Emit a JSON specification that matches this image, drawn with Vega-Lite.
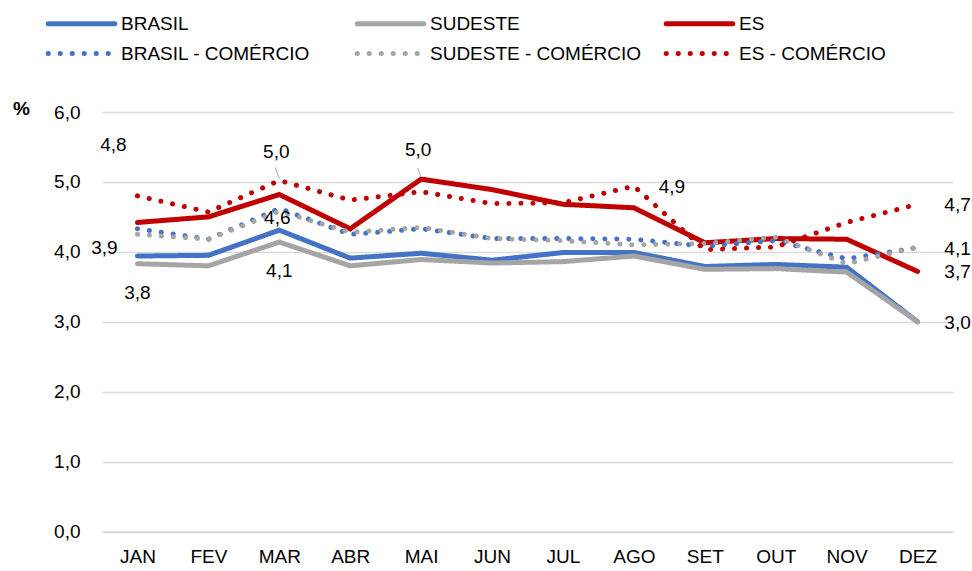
{
  "$schema": "https://vega.github.io/schema/vega-lite/v6.json",
  "width": 851,
  "height": 419.5,
  "autosize": {"type": "none"},
  "padding": {"left": 102, "top": 112, "right": 19, "bottom": 39.5},
  "background": "white",
  "config": {
    "locale": {"number": {"decimal": ",", "thousands": ".", "grouping": [3], "currency": ["R$", ""]}},
    "view": {"stroke": null},
    "font": "Liberation Sans"
  },
  "data": {"values": [
    {"mes": "JAN", "serie": "BRASIL", "valor": 3.94},
    {"mes": "FEV", "serie": "BRASIL", "valor": 3.95},
    {"mes": "MAR", "serie": "BRASIL", "valor": 4.31},
    {"mes": "ABR", "serie": "BRASIL", "valor": 3.91},
    {"mes": "MAI", "serie": "BRASIL", "valor": 3.98},
    {"mes": "JUN", "serie": "BRASIL", "valor": 3.88},
    {"mes": "JUL", "serie": "BRASIL", "valor": 3.99},
    {"mes": "AGO", "serie": "BRASIL", "valor": 3.99},
    {"mes": "SET", "serie": "BRASIL", "valor": 3.79},
    {"mes": "OUT", "serie": "BRASIL", "valor": 3.82},
    {"mes": "NOV", "serie": "BRASIL", "valor": 3.78},
    {"mes": "DEZ", "serie": "BRASIL", "valor": 3.0},
    {"mes": "JAN", "serie": "SUDESTE", "valor": 3.83},
    {"mes": "FEV", "serie": "SUDESTE", "valor": 3.8},
    {"mes": "MAR", "serie": "SUDESTE", "valor": 4.14},
    {"mes": "ABR", "serie": "SUDESTE", "valor": 3.8},
    {"mes": "MAI", "serie": "SUDESTE", "valor": 3.89},
    {"mes": "JUN", "serie": "SUDESTE", "valor": 3.84},
    {"mes": "JUL", "serie": "SUDESTE", "valor": 3.86},
    {"mes": "AGO", "serie": "SUDESTE", "valor": 3.94},
    {"mes": "SET", "serie": "SUDESTE", "valor": 3.75},
    {"mes": "OUT", "serie": "SUDESTE", "valor": 3.76},
    {"mes": "NOV", "serie": "SUDESTE", "valor": 3.71},
    {"mes": "DEZ", "serie": "SUDESTE", "valor": 3.0},
    {"mes": "JAN", "serie": "ES", "valor": 4.42},
    {"mes": "FEV", "serie": "ES", "valor": 4.5},
    {"mes": "MAR", "serie": "ES", "valor": 4.82},
    {"mes": "ABR", "serie": "ES", "valor": 4.33},
    {"mes": "MAI", "serie": "ES", "valor": 5.04},
    {"mes": "JUN", "serie": "ES", "valor": 4.89},
    {"mes": "JUL", "serie": "ES", "valor": 4.68},
    {"mes": "AGO", "serie": "ES", "valor": 4.63},
    {"mes": "SET", "serie": "ES", "valor": 4.13},
    {"mes": "OUT", "serie": "ES", "valor": 4.19},
    {"mes": "NOV", "serie": "ES", "valor": 4.18},
    {"mes": "DEZ", "serie": "ES", "valor": 3.72},
    {"mes": "JAN", "serie": "BRASIL - COMÉRCIO", "valor": 4.33},
    {"mes": "FEV", "serie": "BRASIL - COMÉRCIO", "valor": 4.18},
    {"mes": "MAR", "serie": "BRASIL - COMÉRCIO", "valor": 4.62},
    {"mes": "ABR", "serie": "BRASIL - COMÉRCIO", "valor": 4.25},
    {"mes": "MAI", "serie": "BRASIL - COMÉRCIO", "valor": 4.33},
    {"mes": "JUN", "serie": "BRASIL - COMÉRCIO", "valor": 4.19},
    {"mes": "JUL", "serie": "BRASIL - COMÉRCIO", "valor": 4.19},
    {"mes": "AGO", "serie": "BRASIL - COMÉRCIO", "valor": 4.18},
    {"mes": "SET", "serie": "BRASIL - COMÉRCIO", "valor": 4.08},
    {"mes": "OUT", "serie": "BRASIL - COMÉRCIO", "valor": 4.16},
    {"mes": "NOV", "serie": "BRASIL - COMÉRCIO", "valor": 3.9},
    {"mes": "DEZ", "serie": "BRASIL - COMÉRCIO", "valor": 4.06},
    {"mes": "JAN", "serie": "SUDESTE - COMÉRCIO", "valor": 4.25},
    {"mes": "FEV", "serie": "SUDESTE - COMÉRCIO", "valor": 4.18},
    {"mes": "MAR", "serie": "SUDESTE - COMÉRCIO", "valor": 4.58},
    {"mes": "ABR", "serie": "SUDESTE - COMÉRCIO", "valor": 4.28},
    {"mes": "MAI", "serie": "SUDESTE - COMÉRCIO", "valor": 4.35},
    {"mes": "JUN", "serie": "SUDESTE - COMÉRCIO", "valor": 4.19},
    {"mes": "JUL", "serie": "SUDESTE - COMÉRCIO", "valor": 4.16},
    {"mes": "AGO", "serie": "SUDESTE - COMÉRCIO", "valor": 4.1},
    {"mes": "SET", "serie": "SUDESTE - COMÉRCIO", "valor": 4.12},
    {"mes": "OUT", "serie": "SUDESTE - COMÉRCIO", "valor": 4.21},
    {"mes": "NOV", "serie": "SUDESTE - COMÉRCIO", "valor": 3.83},
    {"mes": "DEZ", "serie": "SUDESTE - COMÉRCIO", "valor": 4.07},
    {"mes": "JAN", "serie": "ES - COMÉRCIO", "valor": 4.8},
    {"mes": "FEV", "serie": "ES - COMÉRCIO", "valor": 4.57},
    {"mes": "MAR", "serie": "ES - COMÉRCIO", "valor": 5.02},
    {"mes": "ABR", "serie": "ES - COMÉRCIO", "valor": 4.74},
    {"mes": "MAI", "serie": "ES - COMÉRCIO", "valor": 4.86},
    {"mes": "JUN", "serie": "ES - COMÉRCIO", "valor": 4.69},
    {"mes": "JUL", "serie": "ES - COMÉRCIO", "valor": 4.7},
    {"mes": "AGO", "serie": "ES - COMÉRCIO", "valor": 4.94},
    {"mes": "SET", "serie": "ES - COMÉRCIO", "valor": 4.03},
    {"mes": "OUT", "serie": "ES - COMÉRCIO", "valor": 4.07},
    {"mes": "NOV", "serie": "ES - COMÉRCIO", "valor": 4.42},
    {"mes": "DEZ", "serie": "ES - COMÉRCIO", "valor": 4.68}
  ]},
  "encoding": {
    "x": {
      "field": "mes", "type": "ordinal",
      "sort": ["JAN", "FEV", "MAR", "ABR", "MAI", "JUN", "JUL", "AGO", "SET", "OUT", "NOV", "DEZ"],
      "scale": {"type": "point", "padding": 0.5},
      "axis": {"title": null, "labelAngle": 0, "labelFontSize": 19, "labelColor": "#000", "ticks": false, "domainColor": "#d9d9d9", "domainWidth": 1.5, "labelPadding": 16, "grid": false}
    },
    "y": {
      "field": "valor", "type": "quantitative",
      "scale": {"domain": [0, 6]},
      "axis": {"title": "%", "titleAngle": 0, "titleX": -81, "titleY": -4, "titleAlign": "center", "titleBaseline": "middle", "titleFontSize": 19, "titleFontWeight": "bold", "titleColor": "#000", "format": ".1f", "values": [0, 1, 2, 3, 4, 5, 6], "domain": false, "ticks": false, "labelPadding": 22, "labelFontSize": 19, "labelColor": "#000", "gridColor": "#d9d9d9", "gridWidth": 1.5}
    }
  },
  "layer": [
    {
      "mark": {"type": "line", "strokeWidth": 5, "strokeCap": "round"},
      "encoding": {
        "color": {
          "field": "serie", "type": "nominal",
          "scale": {"domain": ["BRASIL", "SUDESTE", "ES", "BRASIL - COMÉRCIO", "SUDESTE - COMÉRCIO", "ES - COMÉRCIO"], "range": ["#4472C4", "#A5A5A5", "#C00000", "#4472C4", "#A5A5A5", "#C00000"]},
          "legend": {"title": null, "orient": "none", "legendX": -32, "legendY": -100, "direction": "horizontal", "columns": 3, "gridAlign": "all", "columnPadding": 14, "rowPadding": 8, "symbolType": "M-3.7,0L3.7,0", "symbolSize": 324, "symbolStrokeWidth": 5, "labelFontSize": 19, "labelColor": "#000", "labelOffset": 28, "labelLimit": 400, "padding": 0, "symbolOpacity": 1, "encode": {"symbols": {"update": {"strokeCap": {"value": "round"}}}}}
        },
        "strokeDash": {
          "field": "serie", "type": "nominal",
          "scale": {"domain": ["BRASIL", "SUDESTE", "ES", "BRASIL - COMÉRCIO", "SUDESTE - COMÉRCIO", "ES - COMÉRCIO"], "range": [[1, 0], [1, 0], [1, 0], [0.1, 11.9], [0.1, 11.9], [0.1, 11.9]]},
          "legend": {"title": null, "orient": "none", "legendX": -32, "legendY": -100, "direction": "horizontal", "columns": 3, "gridAlign": "all", "columnPadding": 14, "rowPadding": 8, "symbolType": "M-3.7,0L3.7,0", "symbolSize": 324, "symbolStrokeWidth": 5, "labelFontSize": 19, "labelColor": "#000", "labelOffset": 28, "labelLimit": 400, "padding": 0, "symbolOpacity": 1, "encode": {"symbols": {"update": {"strokeCap": {"value": "round"}}}}}
        }
      }
    },
    {
      "transform": [{"filter": "(datum.serie == 'ES - COMÉRCIO' && datum.mes == 'MAR')"}],
      "mark": {"type": "rule", "color": "#a6a6a6", "strokeWidth": 1, "yOffset": -2, "x2Offset": -4, "y2Offset": -13},
      "encoding": {"x2": {"field": "mes"}, "y2": {"field": "valor"}}
    },
    {
      "transform": [{"filter": "(datum.serie == 'ES' && datum.mes == 'MAI')"}],
      "mark": {"type": "rule", "color": "#a6a6a6", "strokeWidth": 1, "yOffset": -2, "x2Offset": -3.5, "y2Offset": -11},
      "encoding": {"x2": {"field": "mes"}, "y2": {"field": "valor"}}
    },
    {
      "transform": [{"filter": "datum.serie == 'ES - COMÉRCIO' && datum.mes == 'JAN'"}],
      "mark": {"type": "text", "fontSize": 19, "color": "#000", "dx": -24, "dy": -51},
      "encoding": {"text": {"field": "valor", "type": "quantitative", "format": ".1f"}}
    },
    {
      "transform": [{"filter": "datum.serie == 'BRASIL' && datum.mes == 'JAN'"}],
      "mark": {"type": "text", "fontSize": 19, "color": "#000", "dx": -33, "dy": -8},
      "encoding": {"text": {"field": "valor", "type": "quantitative", "format": ".1f"}}
    },
    {
      "transform": [{"filter": "datum.serie == 'SUDESTE' && (datum.mes == 'JAN' || datum.mes == 'MAR')"}],
      "mark": {"type": "text", "fontSize": 19, "color": "#000", "dx": 0, "dy": 29},
      "encoding": {"text": {"field": "valor", "type": "quantitative", "format": ".1f"}}
    },
    {
      "transform": [{"filter": "(datum.serie == 'ES - COMÉRCIO' && datum.mes == 'MAR') || (datum.serie == 'ES' && datum.mes == 'MAI')"}],
      "mark": {"type": "text", "fontSize": 19, "color": "#000", "dx": -3, "dy": -29},
      "encoding": {"text": {"field": "valor", "type": "quantitative", "format": ".1f"}}
    },
    {
      "transform": [{"filter": "datum.serie == 'BRASIL - COMÉRCIO' && datum.mes == 'MAR'"}],
      "mark": {"type": "text", "fontSize": 19, "color": "#000", "dx": -2, "dy": 10},
      "encoding": {"text": {"field": "valor", "type": "quantitative", "format": ".1f"}}
    },
    {
      "transform": [{"filter": "datum.serie == 'ES - COMÉRCIO' && datum.mes == 'AGO'"}],
      "mark": {"type": "text", "fontSize": 19, "color": "#000", "dx": 38, "dy": 1},
      "encoding": {"text": {"field": "valor", "type": "quantitative", "format": ".1f"}}
    },
    {
      "transform": [{"filter": "datum.mes == 'DEZ' && datum.serie != 'BRASIL' && datum.serie != 'SUDESTE - COMÉRCIO'"}],
      "mark": {"type": "text", "fontSize": 19, "color": "#000", "dx": 40, "dy": 1},
      "encoding": {"text": {"field": "valor", "type": "quantitative", "format": ".1f"}}
    }
  ]
}
